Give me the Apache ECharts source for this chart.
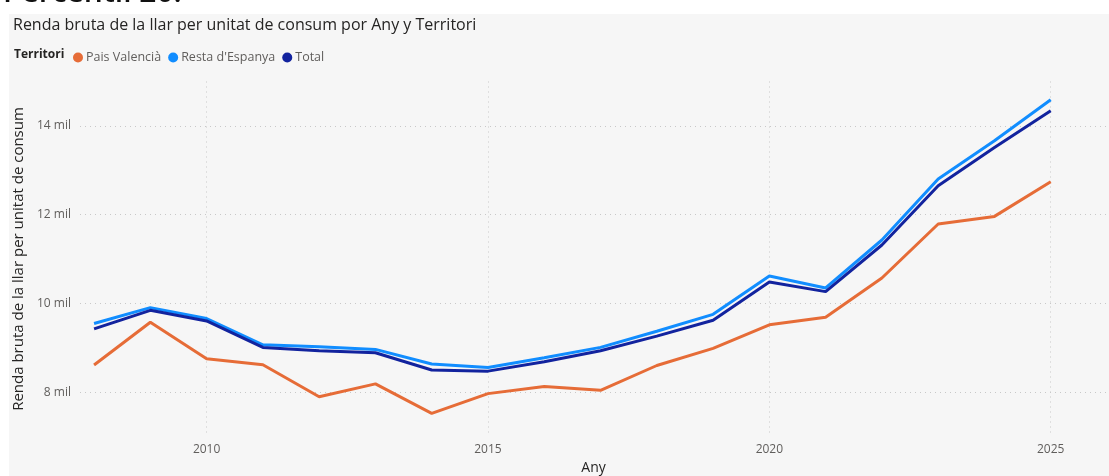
<!DOCTYPE html>
<html><head><meta charset="utf-8">
<script src="https://cdn.jsdelivr.net/npm/echarts@6/dist/echarts.min.js"></script>
<style>html,body{margin:0;padding:0;background:#fff}#c{width:1109px;height:476px}</style>
</head><body><div id="c"></div>
<script>
const years = [2008,2009,2010,2011,2012,2013,2014,2015,2016,2017,2018,2019,2020,2021,2022,2023,2024,2025];
const paisValencia = [8611,9575,8753,8618,7895,8186,7521,7966,8128,8040,8600,8985,9518,9685,10572,11788,11960,12741];
const restaEspanya = [9545,9904,9657,9066,9021,8963,8634,8555,8775,9008,9373,9753,10618,10348,11428,12802,13665,14588];
const total = [9425,9843,9604,9008,8932,8887,8499,8473,8685,8932,9261,9619,10482,10265,11315,12651,13514,14340];
const seriesNames = ['Pais Valencià', "Resta d'Espanya", 'Total'];
const seriesColors = ['#E66C37', '#118DFF', '#12239E'];
const xTickLabels = [2010, 2015, 2020, 2025];
const yTickLabels = [8000, 10000, 12000, 14000];

const FONT = '"Open Sans", "Noto Sans", sans-serif';
const GRID = '#c8c8c8';
const NONE = 'rgba(0,0,0,0)';
// axis ranges (fine step so that min is a multiple of the interval)
const X_MIN = 2007.75, X_MAX = 2026, X_STEP = 0.25;
const Y_MIN = 7000, Y_MAX = 15000, Y_STEP = 1000;
// cycle split-line colours so only the labelled ticks get a visible grid line
const xPeriod = Math.round(5 / X_STEP), xOffset = Math.round((xTickLabels[0] - X_MIN) / X_STEP) % xPeriod;
const xLineColors = Array.from({length: xPeriod}, (_, i) => i === xOffset ? GRID : NONE);
const yPeriod = Math.round(2000 / Y_STEP), yOffset = Math.round((yTickLabels[0] - Y_MIN) / Y_STEP) % yPeriod;
const yLineColors = Array.from({length: yPeriod}, (_, i) => i === yOffset ? GRID : NONE);

const pair = arr => years.map((y, i) => [y, arr[i]]);
const chart = echarts.init(document.getElementById('c'), null, {renderer: 'canvas'});
chart.setOption({
  backgroundColor: '#ffffff',
  animation: false,
  textStyle: {fontFamily: FONT},
  graphic: [
    {type: 'rect', x: 9, y: 14, shape: {width: 1100, height: 462}, style: {fill: '#f6f6f6'}, z: -10},
    {type: 'text', x: 0, y: 0, style: {x: 3, y: 8, text: 'Percentil 20:', verticalAlign: 'bottom', font: '600 30px ' + FONT, fill: '#111'}, z: 5},
    {type: 'text', x: 13, y: 17, style: {text: 'Renda bruta de la llar per unitat de consum por Any y Territori', font: '16px ' + FONT, fill: '#252423'}},
    {type: 'text', x: 14, y: 49, style: {text: 'Territori', font: 'bold 12px ' + FONT, fill: '#252423'}}
  ],
  legend: {
    left: 68, top: 46, icon: 'circle', itemWidth: 10, itemHeight: 10, itemGap: 7,
    textStyle: {fontSize: 12.5, color: '#605E5C', fontFamily: FONT, padding: [0, 0, 0, -2]},
    data: seriesNames
  },
  grid: {left: 80, right: 2, top: 81.5, bottom: 39.5, containLabel: false, outerBoundsMode: 'none'},
  xAxis: {
    type: 'value', min: X_MIN, max: X_MAX, interval: X_STEP,
    name: 'Any', nameLocation: 'middle', nameGap: 25,
    nameTextStyle: {fontSize: 14, color: '#252423', fontFamily: FONT},
    axisLine: {show: false}, axisTick: {show: false},
    axisLabel: {color: '#605E5C', fontSize: 12, margin: 7,
      formatter: v => xTickLabels.includes(v) ? String(v) : ''},
    splitLine: {show: true, lineStyle: {color: xLineColors, type: [1, 4], width: 1}}
  },
  yAxis: {
    type: 'value', min: Y_MIN, max: Y_MAX, interval: Y_STEP,
    name: 'Renda bruta de la llar per unitat de consum', nameLocation: 'middle', nameGap: 45,
    nameTextStyle: {fontSize: 15, color: '#252423', fontFamily: FONT},
    axisLine: {show: false}, axisTick: {show: false},
    axisLabel: {color: '#605E5C', fontSize: 12, margin: 9,
      formatter: v => yTickLabels.includes(v) ? (v / 1000) + ' mil' : ''},
    splitLine: {show: true, lineStyle: {color: yLineColors, type: [1, 4], width: 1}}
  },
  series: [
    {name: seriesNames[0], type: 'line', data: pair(paisValencia), color: seriesColors[0], symbol: 'none', lineStyle: {width: 3}, z: 2},
    {name: seriesNames[1], type: 'line', data: pair(restaEspanya), color: seriesColors[1], symbol: 'none', lineStyle: {width: 3}, z: 3},
    {name: seriesNames[2], type: 'line', data: pair(total), color: seriesColors[2], symbol: 'none', lineStyle: {width: 3}, z: 4}
  ]
});
</script></body></html>
